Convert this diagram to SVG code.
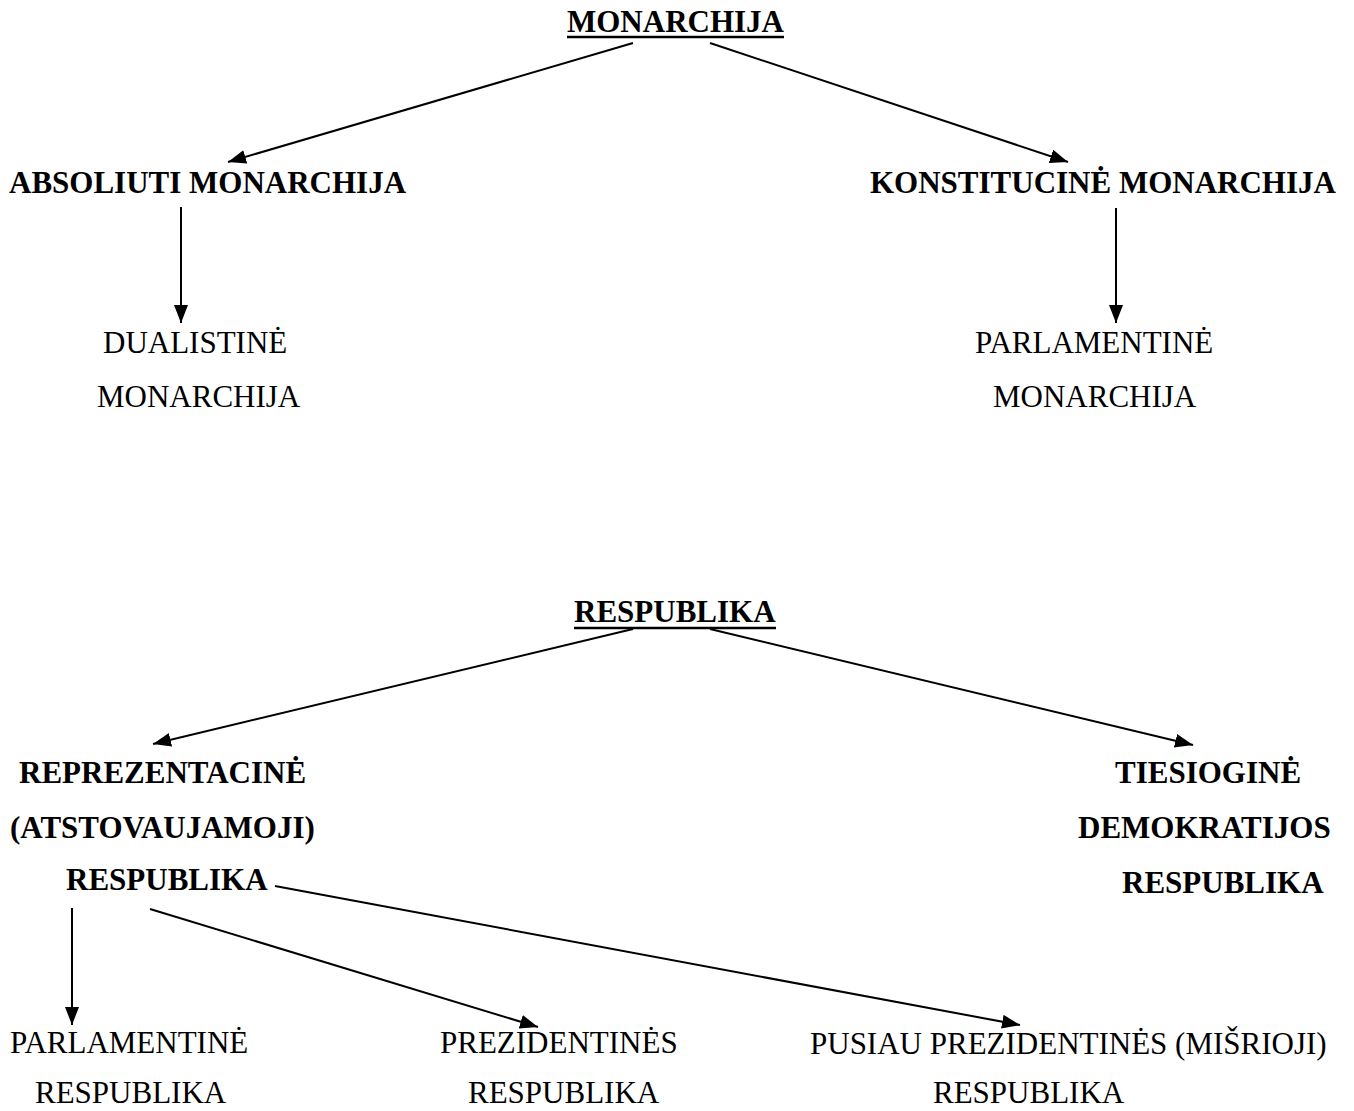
<svg xmlns="http://www.w3.org/2000/svg" width="1354" height="1111" viewBox="0 0 1354 1111">
<style>
text { font-family: "Liberation Serif", "Times New Roman", serif; font-size: 31px; fill: #000; }
.b { font-weight: bold; }
.conn line { stroke: #000; stroke-width: 2; fill: none; }
.ul { stroke: #000; stroke-width: 2.5; }
</style>
<defs>
<marker id="ah" markerUnits="userSpaceOnUse" markerWidth="20" markerHeight="16" refX="18" refY="7" orient="auto">
<path d="M0,0 L18,7 L0,14 Z" fill="#000"/>
</marker>
</defs>
<rect width="1354" height="1111" fill="#fff"/>
<g class="conn">
<line x1="633" y1="43" x2="228" y2="162" marker-end="url(#ah)"/>
<line x1="710" y1="43" x2="1068" y2="162" marker-end="url(#ah)"/>
<line x1="181" y1="207" x2="181" y2="323" marker-end="url(#ah)"/>
<line x1="1116" y1="208" x2="1116" y2="323" marker-end="url(#ah)"/>
<line x1="633" y1="629" x2="153" y2="744" marker-end="url(#ah)"/>
<line x1="710" y1="629" x2="1193" y2="745" marker-end="url(#ah)"/>
<line x1="275" y1="886" x2="1020" y2="1025" marker-end="url(#ah)"/>
<line x1="72" y1="908" x2="72" y2="1025" marker-end="url(#ah)"/>
<line x1="150" y1="909" x2="538" y2="1027" marker-end="url(#ah)"/>
</g>
<g id="monarchija">
<text class="b" x="567" y="32">MONARCHIJA</text>
<line class="ul" x1="567" y1="37" x2="784" y2="37"/>
</g>
<g id="absoliuti"><text class="b" x="9" y="193">ABSOLIUTI MONARCHIJA</text></g>
<g id="konstitucine"><text class="b" x="870" y="193">KONSTITUCINĖ MONARCHIJA</text></g>
<g id="dualistine">
<text x="103" y="353">DUALISTINĖ</text>
<text x="97" y="407">MONARCHIJA</text>
</g>
<g id="parlamentine-m">
<text x="975" y="353">PARLAMENTINĖ</text>
<text x="993" y="407">MONARCHIJA</text>
</g>
<g id="respublika">
<text class="b" x="574" y="622">RESPUBLIKA</text>
<line class="ul" x1="574" y1="628" x2="776" y2="628"/>
</g>
<g id="reprezentacine">
<text class="b" x="19" y="783">REPREZENTACINĖ</text>
<text class="b" x="10" y="838">(ATSTOVAUJAMOJI)</text>
<text class="b" x="66" y="890">RESPUBLIKA</text>
</g>
<g id="tiesiogine">
<text class="b" x="1115" y="783">TIESIOGINĖ</text>
<text class="b" x="1078" y="838">DEMOKRATIJOS</text>
<text class="b" x="1122" y="893">RESPUBLIKA</text>
</g>
<g id="parlamentine-r">
<text x="10" y="1053">PARLAMENTINĖ</text>
<text x="35" y="1103">RESPUBLIKA</text>
</g>
<g id="prezidentines">
<text x="440" y="1053">PREZIDENTINĖS</text>
<text x="468" y="1103">RESPUBLIKA</text>
</g>
<g id="pusiau">
<text x="810" y="1054">PUSIAU PREZIDENTINĖS (MIŠRIOJI)</text>
<text x="933" y="1103">RESPUBLIKA</text>
</g>
</svg>
